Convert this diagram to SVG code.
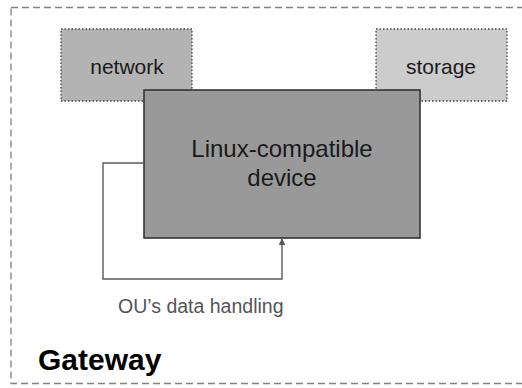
<svg xmlns="http://www.w3.org/2000/svg" width="522" height="388" viewBox="0 0 522 388">
  <style>
    .lbl { font-family: "Liberation Sans", Arial, sans-serif; fill: #1a1a1a; }
    .aux { stroke: #444; stroke-width: 1.3; stroke-dasharray: 1.5 2; }
    .conn { fill: none; stroke: #595959; stroke-width: 1.4; }
  </style>
  <defs>
    <marker id="arrow" viewBox="0 0 10 10" refX="9" refY="5" markerWidth="7" markerHeight="7" orient="auto" markerUnits="userSpaceOnUse">
      <path d="M0,0 L10,5 L0,10 Z" fill="#595959"/>
    </marker>
  </defs>
  <rect width="522" height="388" fill="#ffffff"/>

  <!-- gateway boundary -->
  <g id="gateway">
    <rect x="11" y="7.5" width="530" height="376" fill="none" stroke="#808080" stroke-width="1.3" stroke-dasharray="7 4"/>
    <text class="lbl" x="38" y="370" font-size="30" font-weight="bold" style="fill:#000">Gateway</text>
  </g>

  <g id="network">
    <rect class="aux" x="61" y="29" width="131" height="72" fill="#b3b3b3"/>
    <text class="lbl" x="127" y="74" font-size="21" text-anchor="middle">network</text>
  </g>

  <g id="storage">
    <rect class="aux" x="376" y="29" width="131" height="72" fill="#cccccc"/>
    <text class="lbl" x="441" y="74" font-size="21" text-anchor="middle">storage</text>
  </g>

  <g id="device">
    <rect x="144" y="90" width="276" height="148" fill="#999999" stroke="#333333" stroke-width="1.6"/>
    <text class="lbl" x="282" y="157" font-size="24" text-anchor="middle">Linux-compatible</text>
    <text class="lbl" x="282" y="186" font-size="24" text-anchor="middle">device</text>
  </g>

  <g id="connectors">
    <path class="conn" d="M144,163 H103 V279 H282 V239" marker-end="url(#arrow)"/>
    <text class="lbl" x="118" y="313" font-size="19.5" style="fill:#555555">OU’s data handling</text>
  </g>
</svg>
